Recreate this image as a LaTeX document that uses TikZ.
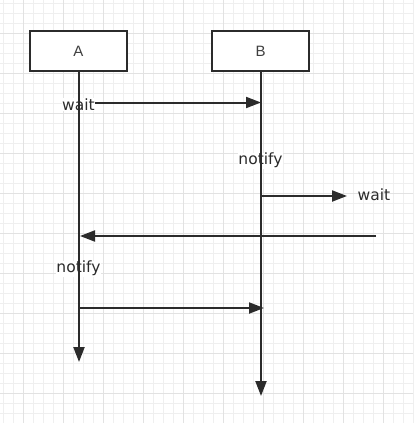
\documentclass[tikz,border=0pt]{standalone}
\usepackage{fontspec}
\setmainfont{DejaVu Sans}
\newfontfamily\boxfont{Liberation Sans}
\usetikzlibrary{arrows.meta}
\definecolor{ink}{HTML}{2B2B2B}
\definecolor{gridminor}{HTML}{EFEFEF}
\definecolor{gridmajor}{HTML}{E2E2E2}
\begin{document}
\begin{tikzpicture}[x=1pt,y=-1pt,
  actor/.style={draw=ink,line width=2.5pt,fill=white,minimum width=97pt,minimum height=40pt,inner sep=0pt,
    font=\boxfont\fontsize{15}{17}\selectfont,text=ink!90},
  msg/.style={draw=ink,line width=2pt,-{Triangle[length=15pt,width=11pt]}},
  life/.style={draw=ink,line width=2.2pt,-{Triangle[length=15pt,width=11pt]}},
  lbl/.style={font=\fontsize{15.5}{18}\selectfont,text=ink,fill=white,inner sep=0.5pt}]
\useasboundingbox (0,0) rectangle (413,423);
% grid
\foreach \i in {0,...,41} {
  \draw[gridminor,line width=0.8pt] (3.3+10*\i,0) -- (3.3+10*\i,423);
  \draw[gridminor,line width=0.8pt] (0,3.3+10*\i) -- (413,3.3+10*\i);
}
\foreach \i in {0,...,10} {
  \draw[gridmajor,line width=1pt] (23.3+40*\i,0) -- (23.3+40*\i,423);
  \draw[gridmajor,line width=1pt] (0,33.3+40*\i) -- (413,33.3+40*\i);
}
% actors
\node[actor] (A) at (78.5,51) {A};
\node[actor] (B) at (260.5,51) {B};
% coordinates
\coordinate (endA) at (79,362);
\coordinate (endB) at (261,396);
\coordinate (a1) at (79,102.5);
\coordinate (b1) at (261,102.5);
\coordinate (b2) at (261,196);
\coordinate (r2) at (347,196);
\coordinate (r3) at (376,236);
\coordinate (a3) at (80,236);
\coordinate (a4) at (79,308);
\coordinate (b4) at (264,308);
% messages
\draw[msg] (a1) -- (b1);
\draw[msg] (b2) -- (r2);
\draw[msg] (r3) -- (a3);
\draw[msg] (a4) -- (b4);
% labels
\node[lbl] (w1) at (78.5,104.5) {wait};
\node[lbl] (n1) at (260.5,160.5) {notify};
\node[lbl,fill=none] (w2) at (374,194.5) {wait};
\node[lbl] (n2) at (78.5,268.5) {notify};
% lifelines
\draw[life] (79,72) -- (endA);
\draw[life] (261,72) -- (endB);
\end{tikzpicture}
\end{document}
